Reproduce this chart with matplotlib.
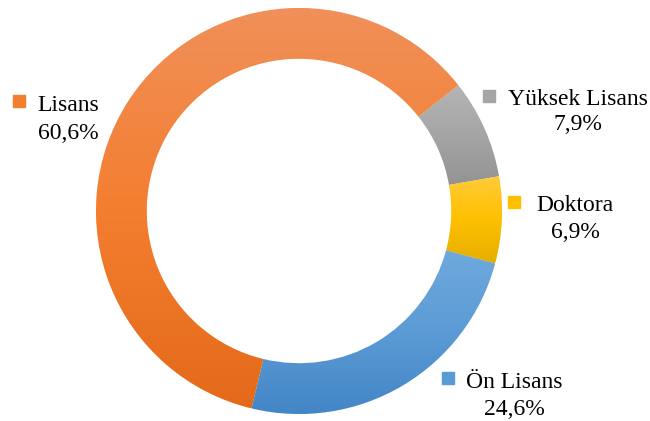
import numpy as np
import matplotlib.pyplot as plt
from matplotlib.colors import LinearSegmentedColormap

# data (clockwise from the upper right)
categories = ['Yüksek Lisans', 'Doktora', 'Ön Lisans', 'Lisans']
values = [7.9, 6.9, 24.6, 60.6]
labels = ['7,9%', '6,9%', '24,6%', '60,6%']

# gradient colours per slice: top, middle, bottom
grad = [('#B5B5B5', '#A5A5A5', '#939393'),
        ('#FFCB3A', '#FFC000', '#E5AE00'),
        ('#6FA9DD', '#5B9BD5', '#4386C6'),
        ('#F0905A', '#F47E30', '#E46A1A')]

# label layout in pixels: marker centre x, marker centre y, text centre x, baseline 1, baseline 2
label_px = [(489, 96, 578, 105, 130),
            (514, 202, 575, 211, 238),
            (448, 378, 514, 388, 415),
            (19, 101, 68, 111, 139)]

W, H = 650, 421
cx, cy, R = 299, 211, 203

plt.rcParams['font.family'] = ['Liberation Serif', 'DejaVu Serif']

fig = plt.figure(figsize=(W / 100, H / 100), dpi=100)
ax = fig.add_axes([0, 0, 1, 1])

xlim = (-cx / R, (W - cx) / R)
ylim = (-(H - cy) / R, cy / R)
ax.set_xlim(xlim)
ax.set_ylim(ylim)
ax.set_aspect('equal')

wedges, _ = ax.pie(values, startangle=38.3, counterclock=False, radius=1,
                   colors=[g[1] for g in grad],
                   wedgeprops=dict(width=0.25, edgecolor='white', linewidth=0.6))

# vertical gradient inside each slice
col = np.linspace(0, 1, 256).reshape(-1, 1)
for w, g in zip(wedges, grad):
    verts = ax.transData.inverted().transform(w.get_verts())
    x0, y0 = verts.min(axis=0)
    x1, y1 = verts.max(axis=0)
    cmap = LinearSegmentedColormap.from_list('g', list(g))
    im = ax.imshow(col, cmap=cmap, extent=(x0, x1, y0, y1), origin='upper',
                   aspect='auto', zorder=w.get_zorder() + 0.1)
    im.set_clip_path(w)

ax.set_xlim(xlim)
ax.set_ylim(ylim)
ax.axis('off')

def px(x, y):
    return (x - cx) / R, (cy - y) / R

for name, lab, g, (mx, my, tx, b1, b2) in zip(categories, labels, grad, label_px):
    ax.plot(*px(mx, my), marker='s', markersize=9, color=g[1], linestyle='none')
    ax.text(*px(tx, b1), name, fontsize=17, ha='center', va='baseline')
    ax.text(*px(tx, b2), lab, fontsize=17, ha='center', va='baseline')

plt.savefig('out.png', dpi=100)
